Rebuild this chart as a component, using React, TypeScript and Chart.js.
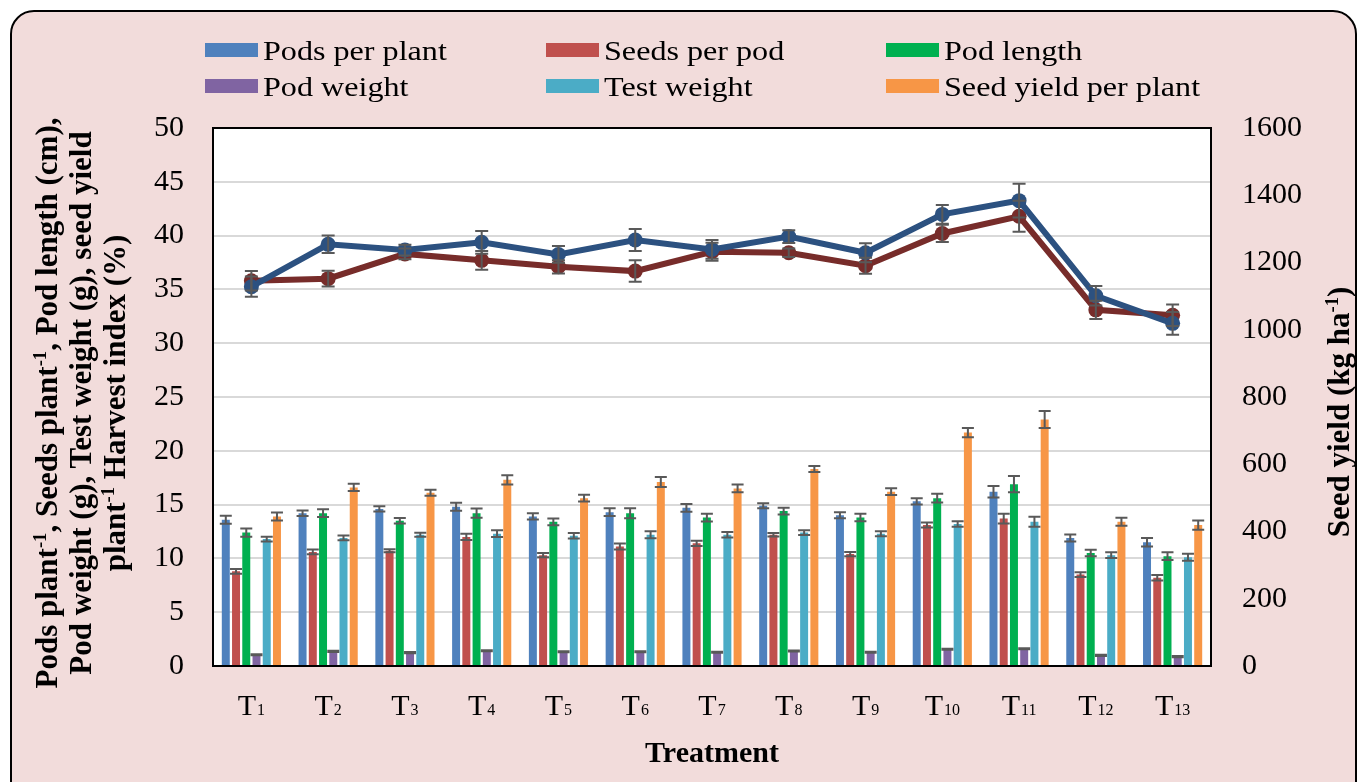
import React, { useEffect, useRef } from 'react';
import { Chart, registerables } from 'chart.js';

Chart.register(...registerables);

// ---------- data ----------
const categories = ['T1', 'T2', 'T3', 'T4', 'T5', 'T6', 'T7', 'T8', 'T9', 'T10', 'T11', 'T12', 'T13'];

const podsPerPlant = [13.6, 14.2, 14.6, 14.8, 13.9, 14.3, 14.7, 14.9, 14.0, 15.3, 16.2, 11.9, 11.5];
const seedsPerPod = [8.8, 10.6, 10.7, 12.0, 10.3, 11.1, 11.4, 12.2, 10.4, 13.1, 13.7, 8.5, 8.2];
const podLength = [12.4, 14.2, 13.5, 14.2, 13.4, 14.2, 13.8, 14.4, 13.8, 15.6, 16.9, 10.5, 10.2];
const podWeight = [1.05, 1.36, 1.24, 1.42, 1.33, 1.33, 1.27, 1.39, 1.27, 1.55, 1.61, 0.99, 0.87];
const testWeight = [11.8, 11.9, 12.2, 12.3, 12.1, 12.2, 12.2, 12.4, 12.3, 13.2, 13.4, 10.3, 10.1];
const seedYieldPerPlant = [13.9, 16.6, 16.1, 17.3, 15.6, 17.1, 16.5, 18.3, 16.2, 21.7, 22.9, 13.4, 13.1];

const podsPerPlantErr = [0.37, 0.26, 0.25, 0.37, 0.29, 0.37, 0.36, 0.23, 0.28, 0.29, 0.54, 0.33, 0.39];
const seedsPerPodErr = [0.22, 0.22, 0.14, 0.29, 0.2, 0.28, 0.25, 0.17, 0.2, 0.23, 0.46, 0.22, 0.25];
const podLengthErr = [0.39, 0.36, 0.25, 0.43, 0.31, 0.46, 0.36, 0.31, 0.34, 0.4, 0.76, 0.31, 0.36];
const podWeightErr = [0.05, 0.05, 0.05, 0.05, 0.05, 0.05, 0.05, 0.05, 0.05, 0.05, 0.05, 0.05, 0.05];
const testWeightErr = [0.22, 0.22, 0.19, 0.31, 0.26, 0.33, 0.26, 0.22, 0.23, 0.25, 0.46, 0.26, 0.33];
const seedYieldPerPlantErr = [0.37, 0.34, 0.28, 0.43, 0.31, 0.46, 0.36, 0.28, 0.31, 0.43, 0.79, 0.37, 0.43];

// lines
const seedYieldKgHa = [1128, 1254, 1237, 1260, 1224, 1267, 1239, 1277, 1229, 1343, 1384, 1101, 1019];
const seedYieldKgHaErr = [30, 26, 16, 34, 25, 33, 28, 19, 28, 28, 50, 29, 34];
const harvestIndex = [35.8, 36.0, 38.3, 37.7, 37.1, 36.7, 38.5, 38.4, 37.2, 40.2, 41.8, 33.1, 32.6];
const harvestIndexErr = [0.9, 0.73, 0.5, 0.87, 0.62, 1.0, 0.84, 0.4, 0.74, 0.8, 1.45, 0.84, 0.99];

const seriesNames = ['Pods per plant', 'Seeds per pod', 'Pod length', 'Pod weight', 'Test weight', 'Seed yield per plant'];
const seriesColors = ['#4f81bd', '#c0504d', '#00b050', '#8064a2', '#4bacc6', '#f79646'];
const seriesValues = [podsPerPlant, seedsPerPod, podLength, podWeight, testWeight, seedYieldPerPlant];
const seriesErrors = [podsPerPlantErr, seedsPerPodErr, podLengthErr, podWeightErr, testWeightErr, seedYieldPerPlantErr];

const leftTicksMax = 50;
const leftTicksStep = 5;
const rightTicksMax = 1600;
const rightTicksStep = 200;

const FONT = "'Liberation Serif', 'Times New Roman', Times, serif";

export default function App() {
  const ref = useRef<HTMLCanvasElement>(null);

  useEffect(() => {
    const canvas = ref.current;
    if (!canvas) return;

    const plotFrame = {
      id: 'plotFrame',
      beforeDraw(chart: any) {
        const { ctx, chartArea: a } = chart;
        ctx.save();
        ctx.fillStyle = '#ffffff';
        ctx.fillRect(a.left, a.top, a.right - a.left, a.bottom - a.top);
        ctx.restore();
      },
      afterDraw(chart: any) {
        const { ctx, chartArea: a } = chart;
        ctx.save();
        ctx.strokeStyle = '#000000';
        ctx.lineWidth = 2;
        ctx.strokeRect(a.left, a.top, a.right - a.left, a.bottom - a.top);
        ctx.restore();
      },
    };

    const errorBars = {
      id: 'errorBars',
      afterDatasetsDraw(chart: any) {
        const c = chart.ctx;
        chart.data.datasets.forEach((ds: any, i: number) => {
          const errs = ds.errors;
          if (!errs) return;
          const meta = chart.getDatasetMeta(i);
          const scale = chart.scales[meta.yAxisID];
          const hw = ds.capHalf || 6;
          c.save();
          c.strokeStyle = '#595959';
          c.lineWidth = 2;
          meta.data.forEach((el: any, j: number) => {
            const v = ds.data[j];
            const e = errs[j];
            const x = el.x;
            const yt = scale.getPixelForValue(v + e);
            const yb = scale.getPixelForValue(v - e);
            c.beginPath();
            c.moveTo(x, yt);
            c.lineTo(x, yb);
            c.moveTo(x - hw, yt);
            c.lineTo(x + hw, yt);
            c.moveTo(x - hw, yb);
            c.lineTo(x + hw, yb);
            c.stroke();
          });
          c.restore();
        });
      },
    };

    const xLabels = {
      id: 'xLabels',
      afterDraw(chart: any) {
        const c = chart.ctx;
        const xs = chart.scales.x;
        const baseY = 715;
        c.save();
        c.fillStyle = '#000';
        c.textBaseline = 'alphabetic';
        c.textAlign = 'left';
        categories.forEach((lab, i) => {
          const main = lab.slice(0, 1);
          const sub = lab.slice(1);
          c.font = `30px ${FONT}`;
          const wm = c.measureText(main).width;
          c.font = `16px ${FONT}`;
          const ws = c.measureText(sub).width;
          const gap = 1;
          const total = wm + gap + ws;
          const cx = xs.getPixelForValue(i);
          const x0 = cx - total / 2;
          c.font = `30px ${FONT}`;
          c.fillText(main, x0, baseY);
          c.font = `16px ${FONT}`;
          c.fillText(sub, x0 + wm + gap, baseY);
        });
        c.restore();
      },
    };

    const barDatasets = seriesNames.map((name, k) => ({
      type: 'bar' as const,
      label: name,
      data: seriesValues[k],
      errors: seriesErrors[k],
      capHalf: 6,
      backgroundColor: seriesColors[k],
      borderWidth: 0,
      yAxisID: 'y',
      order: 3,
      categoryPercentage: 0.8,
      barPercentage: 0.78,
    }));

    const chart = new Chart(canvas, {
      type: 'bar',
      data: {
        labels: categories,
        datasets: [
          ...barDatasets,
          {
            type: 'line' as const,
            label: 'Harvest index',
            data: harvestIndex,
            errors: harvestIndexErr,
            capHalf: 6.5,
            borderColor: '#772c2a',
            backgroundColor: '#772c2a',
            borderWidth: 6,
            pointRadius: 7.5,
            pointBorderWidth: 0,
            pointBackgroundColor: '#772c2a',
            tension: 0,
            yAxisID: 'y',
            order: 2,
          } as any,
          {
            type: 'line' as const,
            label: 'Seed yield',
            data: seedYieldKgHa,
            errors: seedYieldKgHaErr,
            capHalf: 6.5,
            borderColor: '#2c5180',
            backgroundColor: '#2c5180',
            borderWidth: 6,
            pointRadius: 7.5,
            pointBorderWidth: 0,
            pointBackgroundColor: '#2c5180',
            tension: 0,
            yAxisID: 'y1',
            order: 1,
          } as any,
        ],
      },
      options: {
        responsive: false,
        animation: false,
        layout: { padding: { top: 128, left: 0, right: 0, bottom: 0 } },
        plugins: {
          legend: { display: false },
          tooltip: { enabled: false },
          title: { display: false },
        },
        scales: {
          x: {
            offset: true,
            grid: { display: false, drawTicks: false },
            border: { display: false },
            ticks: { display: false },
            title: {
              display: true,
              text: 'Treatment',
              color: '#000',
              font: { family: FONT, size: 30, weight: 'bold' },
              padding: { top: 0, bottom: 10 },
            },
            afterFit(scale: any) {
              scale.height = 116;
            },
          },
          y: {
            position: 'left',
            min: 0,
            max: leftTicksMax,
            ticks: {
              stepSize: leftTicksStep,
              color: '#000',
              font: { family: FONT, size: 30 },
              padding: 29,
              callback: (v: any) => String(v),
            },
            grid: { color: '#d9d9d9', lineWidth: 2, drawTicks: false },
            border: { display: false },
            afterFit(scale: any) {
              scale.width = 213;
            },
          },
          y1: {
            position: 'right',
            min: 0,
            max: rightTicksMax,
            ticks: {
              stepSize: rightTicksStep,
              color: '#000',
              font: { family: FONT, size: 30 },
              padding: 31,
              callback: (v: any) => String(v),
            },
            grid: { display: false, drawTicks: false },
            border: { display: false },
            afterFit(scale: any) {
              scale.width = 148;
            },
          },
        },
      } as any,
      plugins: [plotFrame, errorBars, xLabels],
    });

    return () => chart.destroy();
  }, []);

  const colX = [205, 546, 886];
  const rowY = [43, 79];

  return (
    <div style={{ position: 'fixed', left: 0, top: 0, width: 1359, height: 782, background: '#fff', overflow: 'hidden' }}>
      <div
        style={{
          position: 'absolute',
          left: 10,
          top: 10,
          width: 1347,
          height: 800,
          boxSizing: 'border-box',
          border: '2px solid #000',
          borderRadius: 24,
          background: '#f2dcdb',
        }}
      />
      <canvas ref={ref} width={1359} height={782} style={{ position: 'absolute', left: 0, top: 0, width: 1359, height: 782 }} />
      {seriesNames.map((name, k) => {
        const col = k % 3;
        const row = Math.floor(k / 3);
        return (
          <div
            key={name}
            style={{ position: 'absolute', left: colX[col], top: rowY[row], height: 14, display: 'flex', alignItems: 'center' }}
          >
            <div style={{ width: 53, height: 14, background: seriesColors[k], flex: 'none' }} />
            <span
              style={{
                marginLeft: 5,
                fontFamily: FONT,
                fontSize: 27,
                lineHeight: '14px',
                color: '#000',
                whiteSpace: 'nowrap',
                display: 'inline-block',
                transform: 'scaleX(1.19) translateY(1px)',
                transformOrigin: 'left center',
              }}
            >
              {name}
            </span>
          </div>
        );
      })}
      <div
        style={{
          position: 'absolute',
          left: 81 - 360,
          top: 403 - 51,
          width: 720,
          height: 102,
          lineHeight: '34px',
          textAlign: 'center',
          fontFamily: FONT,
          fontWeight: 'bold',
          fontSize: 31,
          color: '#000',
          transform: 'rotate(-90deg)',
          transformOrigin: 'center center',
          whiteSpace: 'nowrap',
        }}
      >
        <div>
          Pods plant<sup style={{ fontSize: '0.6em', lineHeight: 0 }}>-1</sup>, Seeds plant<sup style={{ fontSize: '0.6em', lineHeight: 0 }}>-1</sup>, Pod length (cm),
        </div>
        <div>Pod weight (g), Test weight (g), seed yield</div>
        <div>
          plant<sup style={{ fontSize: '0.6em', lineHeight: 0 }}>-1</sup> Harvest index (%)
        </div>
      </div>
      <div
        style={{
          position: 'absolute',
          left: 1339 - 200,
          top: 412 - 17,
          width: 400,
          height: 34,
          lineHeight: '34px',
          textAlign: 'center',
          fontFamily: FONT,
          fontWeight: 'bold',
          fontSize: 31,
          color: '#000',
          transform: 'rotate(-90deg)',
          transformOrigin: 'center center',
          whiteSpace: 'nowrap',
        }}
      >
        Seed yield (kg ha<sup style={{ fontSize: '0.6em', lineHeight: 0 }}>-1</sup>)
      </div>
    </div>
  );
}
